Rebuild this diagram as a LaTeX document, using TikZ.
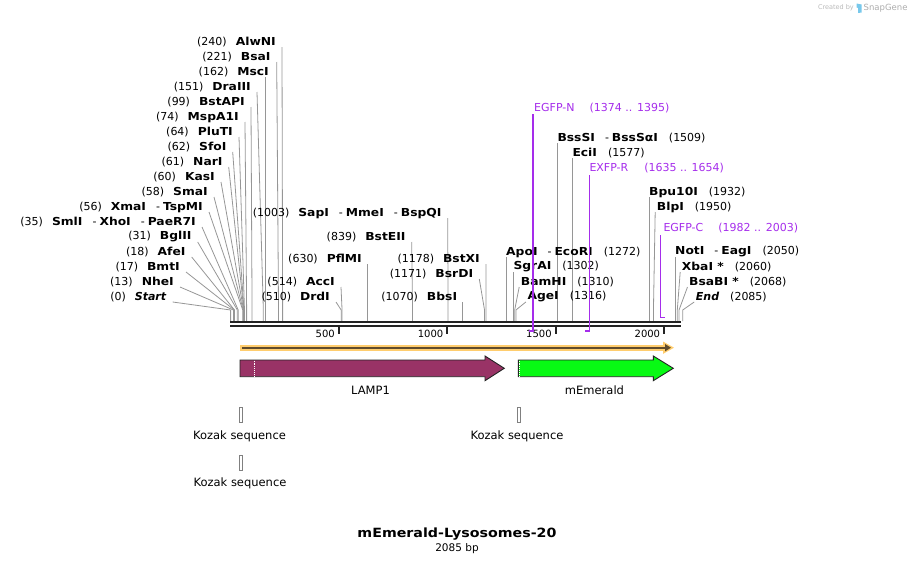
\documentclass[tikz,border=0pt]{standalone}
\usepackage{fontspec}
\setmainfont{DejaVu Sans}[BoldFeatures={FakeStretch=1.12}]
\usetikzlibrary{arrows.meta}
\definecolor{conn}{RGB}{150,150,150}
\definecolor{prim}{RGB}{165,45,235}
\definecolor{lampc}{RGB}{153,51,102}
\definecolor{emer}{RGB}{8,250,20}
\definecolor{orng}{RGB}{255,205,110}
\definecolor{brwn}{RGB}{95,75,45}
\definecolor{rul}{RGB}{35,35,35}
\definecolor{sgblue}{RGB}{120,200,235}
\newcommand\dsep{\hspace{10pt}-\hspace{3pt}}
\newcommand\nmgap{\hspace{9pt}}
\newcommand\rgap{\hspace{11pt}}
\newcommand\LeftSite[5]{%
  \node[lab,anchor=east] (#1) at (#3,#2) {#5};
  \pgfmathsetmacro\SiteX{230.6+0.21685*#4}%
  \pgfmathsetmacro\StartX{min(#3+6,\SiteX)}%
  \coordinate (#1-a) at (\StartX,#2+5);
  \coordinate (#1-b) at (\SiteX,310);
  \coordinate (#1-c) at (\SiteX,321);
  \draw[conline] (#1-a) -- (#1-b) -- (#1-c);
}
\newcommand\RightSite[5]{%
  \node[lab,anchor=west] (#1) at (#3,#2) {#5};
  \pgfmathsetmacro\SiteX{230.6+0.21685*#4}%
  \pgfmathsetmacro\StartX{max(#3-1.5,\SiteX)}%
  \coordinate (#1-a) at (\StartX,#2+5);
  \coordinate (#1-b) at (\SiteX,310);
  \coordinate (#1-c) at (\SiteX,321);
  \draw[conline] (#1-a) -- (#1-b) -- (#1-c);
}
\newcommand\TickAt[2]{%
  \pgfmathsetmacro\SiteX{230.6+0.21685*#2}%
  \coordinate (t#1-a) at (\SiteX,326);
  \coordinate (t#1-b) at (\SiteX,334);
  \draw[rul, line width=2pt] (t#1-a) -- (t#1-b);
  \node[ticklab, anchor=east] (tl#1) at (\SiteX-4,334) {#2};
}
\begin{document}
\begin{tikzpicture}[x=1pt,y=-1pt,
  lab/.style={inner sep=0pt, font=\fontsize{11}{13}\selectfont},
  plab/.style={inner sep=0pt, text=prim, font=\fontsize{11}{13}\selectfont},
  ticklab/.style={inner sep=0pt, font=\fontsize{10}{12}\selectfont},
  conline/.style={draw=conn, line width=0.8pt},
  primline/.style={draw=prim, line width=1.2pt},
  feat/.style={draw=rul, line width=0.9pt},
  featlab/.style={inner sep=0pt, font=\fontsize{11.5}{13}\selectfont},
  kozbox/.style={draw=gray, fill=white, line width=0.6pt, minimum width=3pt, minimum height=15pt, inner sep=0pt},
  kozlab/.style={inner sep=0pt, font=\fontsize{11.5}{13}\selectfont}]
\useasboundingbox (0,0) rectangle (914,565);

% ---- left enzyme labels
\LeftSite{AlwNI}{42}{276}{240}{(240)\nmgap\textbf{AlwNI}}
\LeftSite{BsaI}{57}{270.7}{221}{(221)\nmgap\textbf{BsaI}}
\LeftSite{MscI}{72}{269}{162}{(162)\nmgap\textbf{MscI}}
\LeftSite{DraIII}{87}{251}{151}{(151)\nmgap\textbf{DraIII}}
\LeftSite{BstAPI}{102}{245}{99}{(99)\nmgap\textbf{BstAPI}}
\LeftSite{MspAI}{117}{239}{74}{(74)\nmgap\textbf{MspA1I}}
\LeftSite{PluTI}{132}{233}{64}{(64)\nmgap\textbf{PluTI}}
\LeftSite{SfoI}{147}{226.7}{62}{(62)\nmgap\textbf{SfoI}}
\LeftSite{NarI}{162}{222.7}{61}{(61)\nmgap\textbf{NarI}}
\LeftSite{KasI}{177}{215}{60}{(60)\nmgap\textbf{KasI}}
\LeftSite{SmaI}{192}{208}{58}{(58)\nmgap\textbf{SmaI}}
\LeftSite{XmaI}{207}{203}{56}{(56)\nmgap\textbf{XmaI}\dsep\textbf{TspMI}}
\LeftSite{SmlI}{222}{196}{35}{(35)\nmgap\textbf{SmlI}\dsep\textbf{XhoI}\dsep\textbf{PaeR7I}}
\LeftSite{BglII}{237}{191.7}{31}{(31)\nmgap\textbf{BglII}}
\LeftSite{AfeI}{252}{185.7}{18}{(18)\nmgap\textbf{AfeI}}
\LeftSite{BmtI}{267}{180}{17}{(17)\nmgap\textbf{BmtI}}
\LeftSite{NheI}{282}{174}{13}{(13)\nmgap\textbf{NheI}}
\LeftSite{Start}{297}{166.7}{0}{(0)\nmgap\textbf{\textit{Start}}}

% ---- middle enzyme labels
\LeftSite{SapI}{213}{441.7}{1003}{(1003)\nmgap\textbf{SapI}\dsep\textbf{MmeI}\dsep\textbf{BspQI}}
\LeftSite{BstEII}{237}{405.7}{839}{(839)\nmgap\textbf{BstEII}}
\LeftSite{PflMI}{259}{362}{630}{(630)\nmgap\textbf{PflMI}}
\LeftSite{AccI}{282}{335}{514}{(514)\nmgap\textbf{AccI}}
\LeftSite{DrdI}{297}{330}{510}{(510)\nmgap\textbf{DrdI}}
\LeftSite{BstXI}{259}{480}{1178}{(1178)\nmgap\textbf{BstXI}}
\LeftSite{BsrDI}{274}{473.3}{1171}{(1171)\nmgap\textbf{BsrDI}}
\LeftSite{BbsI}{297}{457.3}{1070}{(1070)\nmgap\textbf{BbsI}}

% ---- right enzyme labels
\RightSite{BssSI}{138}{557.3}{1509}{\textbf{BssSI}\dsep\textbf{BssSαI}\rgap(1509)}
\RightSite{EciI}{153}{572.3}{1577}{\textbf{EciI}\rgap(1577)}
\RightSite{BpuI}{192}{649}{1932}{\textbf{Bpu10I}\rgap(1932)}
\RightSite{BlpI}{207}{656.7}{1950}{\textbf{BlpI}\rgap(1950)}
\RightSite{ApoI}{252}{506}{1272}{\textbf{ApoI}\dsep\textbf{EcoRI}\rgap(1272)}
\RightSite{SgrAI}{267}{513.3}{1302}{\textbf{SgrAI}\rgap(1302)}
\RightSite{BamHI}{282}{520.7}{1310}{\textbf{BamHI}\rgap(1310)}
\RightSite{AgeI}{297}{527.3}{1316}{\textbf{AgeI}\rgap(1316)}
\RightSite{NotI}{252}{675}{2050}{\textbf{NotI}\dsep\textbf{EagI}\rgap(2050)}
\RightSite{XbaI}{267}{681.7}{2060}{\textbf{XbaI *}\rgap(2060)}
\RightSite{BsaBI}{282}{689}{2068}{\textbf{BsaBI *}\rgap(2068)}
\RightSite{End}{297}{695.7}{2085}{\textbf{\textit{End}}\rgap(2085)}

% ---- primers
\node[plab,anchor=west] (EGFPN) at (534,108) {EGFP-N\hspace{15pt}(1374 .. 1395)};
\coordinate (EGFPN-a) at ({230.6+0.21685*1395},114);
\coordinate (EGFPN-b) at ({230.6+0.21685*1395},331);
\coordinate (EGFPN-c) at ({230.6+0.21685*1374},331);
\node[plab,anchor=west] (EXFPR) at (589.3,168) {EXFP-R\hspace{16pt}(1635 .. 1654)};
\coordinate (EXFPR-a) at ({230.6+0.21685*1654},175);
\coordinate (EXFPR-b) at ({230.6+0.21685*1654},331);
\coordinate (EXFPR-c) at ({230.6+0.21685*1635},331);
\node[plab,anchor=west] (EGFPC) at (663.3,228) {EGFP-C\hspace{15pt}(1982 .. 2003)};
\coordinate (EGFPC-a) at ({230.6+0.21685*1982},235);
\coordinate (EGFPC-b) at ({230.6+0.21685*1982},317.5);
\coordinate (EGFPC-c) at ({230.6+0.21685*2003},317.5);

% ---- ruler
\coordinate (r0) at (230,322.2);
\coordinate (r1) at (681,322.2);
\coordinate (r2) at (230,326.2);
\coordinate (r3) at (681,326.2);
\draw[rul, line width=2.2pt] (r0) -- (r1);
\draw[rul, line width=2.2pt] (r2) -- (r3);
\TickAt{a}{500}
\TickAt{b}{1000}
\TickAt{c}{1500}
\TickAt{d}{2000}

\draw[primline] (EGFPN-a) -- (EGFPN-b) -- (EGFPN-c);
\draw[primline] (EXFPR-a) -- (EXFPR-b) -- (EXFPR-c);
\draw[primline] (EGFPC-a) -- (EGFPC-b) -- (EGFPC-c);

% ---- orange full-length arrow
\coordinate (o0) at (240,347.7);
\coordinate (o1) at (667,347.7);
\coordinate (o2) at (671,347.7);
\draw[orng, line width=5.7pt] (o0) -- (o1);
\fill[orng] (663,341.5) -- (674,347.7) -- (663,353.9) -- cycle;
\draw[brwn, line width=2pt, -{Triangle[length=6pt,width=7pt]}] ([xshift=2pt]o0) -- (o2);

% ---- features
\fill[lampc] (240,360) -- (485,360) -- (485,356) -- (504.3,368.3) -- (485,380.7) -- (485,376.7) -- (240,376.7) -- cycle;
\draw[feat, line join=miter] (240,360) -- (485,360) -- (485,356) -- (504.3,368.3) -- (485,380.7) -- (485,376.7) -- (240,376.7) -- cycle;
\draw[white, densely dotted, line width=0.9pt] (254.3,360.6) -- (254.3,376.1);
\node[featlab] (LAMP) at (370.5,390) {LAMP1};

\fill[emer] (518.3,360) -- (653.3,360) -- (653.3,356) -- (673.3,368.3) -- (653.3,380.7) -- (653.3,376.7) -- (518.3,376.7) -- cycle;
\draw[feat, line join=miter] (518.3,360) -- (653.3,360) -- (653.3,356) -- (673.3,368.3) -- (653.3,380.7) -- (653.3,376.7) -- (518.3,376.7) -- cycle;
\draw[white, densely dotted, line width=0.9pt] (519.3,360.6) -- (519.3,376.1);
\node[featlab] (MEM) at (594.5,390) {mEmerald};

% ---- Kozak sequences
\node[kozbox] (k1) at (240.5,415) {};
\node[kozlab] (k1l) at (239.5,436.7) {Kozak sequence};
\node[kozbox] (k2) at (518.5,415) {};
\node[kozlab] (k2l) at (517,436.7) {Kozak sequence};
\node[kozbox] (k3) at (241,462.5) {};
\node[kozlab] (k3l) at (240,483) {Kozak sequence};

% ---- title
\node[inner sep=0pt, font=\fontsize{12.7}{15}\selectfont\bfseries] (title) at (457,534) {mEmerald-Lysosomes-20};
\node[inner sep=0pt, font=\fontsize{10.5}{12}\selectfont] (bp) at (457,549) {2085 bp};

% ---- watermark
\node[inner sep=0pt, anchor=east, text=gray!55, font=\fontsize{6.5}{7}\selectfont] (created) at (854,8) {Created by};
\fill[sgblue] (856.5,3.5) -- (861.5,4.5) -- (861.5,12.5) -- (858,13) -- (858,8) -- (856.5,7.5) -- cycle;
\node[inner sep=0pt, anchor=west, text=gray!65, font=\fontsize{8.5}{9}\selectfont] (sg) at (863.5,8) {SnapGene};
\end{tikzpicture}
\end{document}
